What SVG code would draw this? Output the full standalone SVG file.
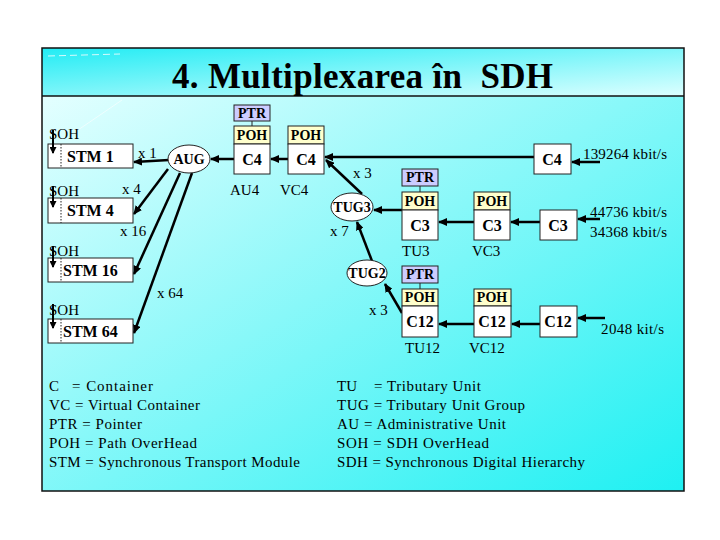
<svg xmlns="http://www.w3.org/2000/svg" width="720" height="540" viewBox="0 0 720 540">
<defs>
<linearGradient id="gTitle" x1="0" y1="0" x2="1" y2="1">
<stop offset="0" stop-color="#22ECF4"/>
<stop offset="1" stop-color="#DDFFFF"/>
</linearGradient>
<linearGradient id="gMain" x1="0" y1="0" x2="1" y2="1">
<stop offset="0" stop-color="#E4FFFF"/>
<stop offset="1" stop-color="#1EF0F2"/>
</linearGradient>
<marker id="ah" markerUnits="userSpaceOnUse" markerWidth="9" markerHeight="8" refX="8" refY="4" orient="auto">
<path d="M0,0 L9,4 L0,8 z" fill="#000"/>
</marker>
<marker id="ahs" markerUnits="userSpaceOnUse" markerWidth="7" markerHeight="7" refX="6" refY="3.5" orient="auto">
<path d="M0,0 L7,3.5 L0,7 z" fill="#000"/>
</marker>
<style>
.box{fill:#fff;stroke:#222;stroke-width:1}
.ptr{fill:#CCCCFF;stroke:#222;stroke-width:1}
.poh{fill:#FFFFCC;stroke:#222;stroke-width:1}
.ell{fill:#fff;stroke:#222;stroke-width:1}
.b15{font-family:"Liberation Serif",serif;font-weight:bold;font-size:16px;text-anchor:middle}
.b13{font-family:"Liberation Serif",serif;font-weight:bold;font-size:14px;text-anchor:middle}
.t{font-family:"Liberation Serif",serif;font-size:15px}
.st{font-family:"Liberation Serif",serif;font-weight:bold;font-size:16px}
.c{stroke:#000;stroke-width:2.5;fill:none;marker-end:url(#ah)}
.cs{stroke:#000;stroke-width:2;fill:none;marker-end:url(#ahs)}
.ln{stroke:#222;stroke-width:1}
</style>
</defs>
<rect x="0" y="0" width="720" height="540" fill="#fff"/>
<rect x="42" y="48" width="642" height="48" fill="url(#gTitle)"/>
<rect x="42" y="96" width="642" height="395" fill="url(#gMain)"/>
<path d="M48,56 L120,54" stroke="#fff" stroke-width="1" stroke-dasharray="7,4" opacity="0.8"/>
<path d="M78,130 L122,100" stroke="#fff" stroke-width="1" opacity="0.6"/>
<rect x="42" y="48" width="642" height="443" fill="none" stroke="#111" stroke-width="1.5"/>
<line x1="42" y1="96" x2="684" y2="96" stroke="#111" stroke-width="1.5"/>
<text x="172" y="88" font-family="'Liberation Serif',serif" font-weight="bold" font-size="35" textLength="381" lengthAdjust="spacing" xml:space="preserve">4. Multiplexarea în  SDH</text>

<g id="connectors">
<line class="c" x1="169" y1="160" x2="134" y2="162"/>
<line class="c" x1="168" y1="169" x2="134" y2="214"/>
<line class="c" x1="180" y1="173" x2="134" y2="274"/>
<line class="c" x1="192" y1="173" x2="134" y2="333"/>
<line class="c" x1="234" y1="159" x2="211" y2="159"/>
<line class="c" x1="288" y1="159" x2="271" y2="159"/>
<line class="c" x1="534" y1="157" x2="325" y2="157"/>
<line class="c" x1="362" y1="194" x2="326" y2="160"/>
<line class="c" x1="402" y1="210" x2="374" y2="210"/>
<line class="c" x1="474" y1="222" x2="439" y2="222"/>
<line class="c" x1="540" y1="222" x2="511" y2="222"/>
<line class="c" x1="600" y1="219" x2="578" y2="219"/>
<line class="c" x1="600" y1="162" x2="572" y2="162"/>
<line class="c" x1="372" y1="261" x2="357" y2="222"/>
<line class="c" x1="402" y1="313" x2="385" y2="284"/>
<line class="c" x1="474" y1="324" x2="439" y2="324"/>
<line class="c" x1="540" y1="324" x2="512" y2="324"/>
<line class="c" x1="605" y1="318" x2="578" y2="318"/>
<line class="ln" x1="252" y1="121" x2="252" y2="126"/>
<line class="ln" x1="420" y1="186" x2="420" y2="192"/>
<line class="ln" x1="420" y1="283" x2="420" y2="289"/>
</g>

<g id="stm1">
<rect class="box" x="48" y="144" width="85" height="24"/>
<line x1="61" y1="144" x2="61" y2="168" stroke="#222" stroke-width="1" stroke-dasharray="1.5,1.5"/>
<text class="t" x="49" y="139">SOH</text>
<line class="cs" x1="53" y1="130" x2="53" y2="153"/>
<text class="st" x="67" y="162">STM 1</text>
</g>
<g id="stm4">
<rect class="box" x="48" y="198" width="85" height="25"/>
<line x1="61" y1="198" x2="61" y2="223" stroke="#222" stroke-width="1" stroke-dasharray="1.5,1.5"/>
<text class="t" x="49" y="196">SOH</text>
<line class="cs" x1="53" y1="186" x2="53" y2="207"/>
<text class="st" x="67" y="216">STM 4</text>
</g>
<g id="stm16">
<rect class="box" x="48" y="258" width="85" height="24"/>
<line x1="61" y1="258" x2="61" y2="282" stroke="#222" stroke-width="1" stroke-dasharray="1.5,1.5"/>
<text class="t" x="49" y="256">SOH</text>
<line class="cs" x1="53" y1="246" x2="53" y2="267"/>
<text class="st" x="63" y="276">STM 16</text>
</g>
<g id="stm64">
<rect class="box" x="48" y="319" width="85" height="24"/>
<line x1="61" y1="319" x2="61" y2="343" stroke="#222" stroke-width="1" stroke-dasharray="1.5,1.5"/>
<text class="t" x="49" y="315">SOH</text>
<line class="cs" x1="53" y1="304" x2="53" y2="328"/>
<text class="st" x="63" y="337">STM 64</text>
</g>

<g id="labels">
<text class="t" x="138" y="158">x 1</text>
<text class="t" x="122" y="194">x 4</text>
<text class="t" x="120" y="236">x 16</text>
<text class="t" x="157" y="298">x 64</text>
<text class="t" x="230" y="195">AU4</text>
<text class="t" x="280" y="195">VC4</text>
<text class="t" x="353" y="178">x 3</text>
<text class="t" x="330" y="236">x 7</text>
<text class="t" x="369" y="315">x 3</text>
<text class="t" x="402" y="256">TU3</text>
<text class="t" x="472" y="256">VC3</text>
<text class="t" x="405" y="353">TU12</text>
<text class="t" x="469" y="353">VC12</text>
<text class="t" x="583" y="159" textLength="84">139264 kbit/s</text>
<text class="t" x="590" y="217" textLength="77">44736 kbit/s</text>
<text class="t" x="590" y="237" textLength="77">34368 kbit/s</text>
<text class="t" x="601" y="334" textLength="63">2048 kit/s</text>
</g>

<g id="aug">
<ellipse class="ell" cx="189" cy="159" rx="21" ry="14"/>
<text class="b13" x="189" y="164">AUG</text>
</g>
<g id="au4">
<rect class="ptr" x="234" y="105" width="36" height="16"/>
<text class="b13" x="252" y="118">PTR</text>
<rect class="poh" x="234" y="126" width="36" height="18"/>
<text class="b13" x="252" y="140">POH</text>
<rect class="box" x="234" y="144" width="36" height="30"/>
<text class="b15" x="252" y="165">C4</text>
</g>
<g id="vc4">
<rect class="poh" x="288" y="126" width="36" height="18"/>
<text class="b13" x="306" y="140">POH</text>
<rect class="box" x="288" y="144" width="36" height="30"/>
<text class="b15" x="306" y="165">C4</text>
</g>
<g id="c4">
<rect class="box" x="534" y="144" width="37" height="30"/>
<text class="b15" x="552" y="165">C4</text>
</g>
<g id="tug3">
<ellipse class="ell" cx="352" cy="207" rx="21" ry="14"/>
<text class="b13" x="352" y="212">TUG3</text>
</g>
<g id="tu3">
<rect class="ptr" x="402" y="169" width="36" height="17"/>
<text class="b13" x="420" y="182">PTR</text>
<rect class="poh" x="402" y="192" width="36" height="18"/>
<text class="b13" x="420" y="206">POH</text>
<rect class="box" x="402" y="210" width="36" height="30"/>
<text class="b15" x="420" y="231">C3</text>
</g>
<g id="vc3">
<rect class="poh" x="474" y="192" width="36" height="18"/>
<text class="b13" x="492" y="206">POH</text>
<rect class="box" x="474" y="210" width="36" height="30"/>
<text class="b15" x="492" y="231">C3</text>
</g>
<g id="c3">
<rect class="box" x="540" y="210" width="37" height="30"/>
<text class="b15" x="558" y="231">C3</text>
</g>
<g id="tug2">
<ellipse class="ell" cx="367" cy="273" rx="20" ry="13"/>
<text class="b13" x="367" y="278">TUG2</text>
</g>
<g id="tu12">
<rect class="ptr" x="402" y="266" width="36" height="17"/>
<text class="b13" x="420" y="279">PTR</text>
<rect class="poh" x="402" y="289" width="36" height="17"/>
<text class="b13" x="420" y="302">POH</text>
<rect class="box" x="402" y="306" width="36" height="31"/>
<text class="b15" x="420" y="327">C12</text>
</g>
<g id="vc12">
<rect class="poh" x="474" y="289" width="37" height="17"/>
<text class="b13" x="492" y="302">POH</text>
<rect class="box" x="474" y="306" width="37" height="31"/>
<text class="b15" x="492" y="327">C12</text>
</g>
<g id="c12">
<rect class="box" x="540" y="306" width="37" height="31"/>
<text class="b15" x="558" y="327">C12</text>
</g>

<g id="legend-left">
<text class="t" x="49" y="391">C</text><text class="t" x="72" y="391" textLength="81">= Container</text>
<text class="t" x="49" y="410" textLength="151">VC = Virtual Container</text>
<text class="t" x="49" y="429" textLength="93">PTR = Pointer</text>
<text class="t" x="49" y="448" textLength="148">POH = Path OverHead</text>
<text class="t" x="49" y="467" textLength="251">STM = Synchronous Transport Module</text>
</g>
<g id="legend-right">
<text class="t" x="337" y="391">TU</text><text class="t" x="374" y="391" textLength="107">= Tributary Unit</text>
<text class="t" x="337" y="410" textLength="188">TUG = Tributary Unit Group</text>
<text class="t" x="337" y="429" textLength="169">AU = Administrative Unit</text>
<text class="t" x="337" y="448" textLength="152">SOH = SDH OverHead</text>
<text class="t" x="337" y="467" textLength="248">SDH = Synchronous Digital Hierarchy</text>
</g>
</svg>
